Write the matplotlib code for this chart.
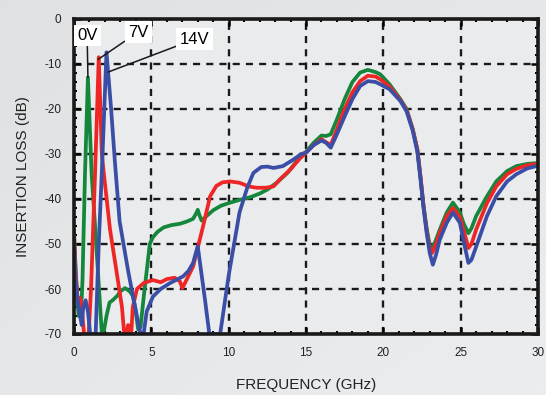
import numpy as np
import matplotlib
matplotlib.use("Agg")
import matplotlib.pyplot as plt
from matplotlib.ticker import MultipleLocator

plt.rcParams['font.family'] = ['Liberation Sans', 'DejaVu Sans']

# ---------------- data ----------------
green_f = [0.0, 0.1, 0.2, 0.3, 0.4, 0.5, 0.55, 0.71, 0.9, 1.14, 1.4, 1.8, 1.95, 2.1, 2.3, 2.5,
           2.8, 3.0, 3.3, 3.6, 3.8, 3.95, 4.15, 4.3, 4.5, 4.7, 4.9, 5.1, 5.4, 5.8, 6.3, 6.85,
           7.3, 7.7, 7.9, 8.0, 8.1, 8.25, 8.5, 9.0, 9.5, 10.1, 10.7, 11.4, 12.0, 12.5, 13.1,
           13.8, 14.4, 15.0, 15.5, 16.0, 16.3, 16.6, 17.0, 17.5, 18.0, 18.5, 19.0, 19.5, 19.8,
           20.4, 21.1, 21.5, 21.9, 22.2, 22.4, 22.6, 22.8, 23.0, 23.1, 23.3, 23.65, 24.1, 24.5,
           24.95, 25.2, 25.5, 25.7, 26.0, 26.7, 27.3, 28.0, 28.6, 29.3, 30.0]
green_db = [-47, -55, -62, -66, -64, -62, -58, -34.5, -13, -34.5, -48, -70, -69, -66, -63, -62.5,
            -61.5, -60.5, -59.8, -60.5, -61.5, -64, -69, -68.5, -62, -56, -50, -48.5, -47.3, -46.3, -45.8, -45.5,
            -45, -44.4, -43.2, -42.4, -43.5, -44.8, -44, -42.5, -41.5, -40.8, -40.2, -39.6, -38.8, -37.9, -36.4,
            -34.2, -31.6, -29.5, -27.5, -25.9, -26, -25.6, -22.3, -17.8, -14, -11.9, -11.3, -11.8, -12.3,
            -14.5, -17.8, -20, -24.5, -29, -35, -41.5, -46.5, -50.3, -51.2, -50, -46.8, -43, -40.8,
            -43, -45.5, -47.6, -46.5, -43.8, -39.4, -36.1, -33.8, -32.7, -32.2, -32]

red_f = [0.0, 0.1, 0.25, 0.4, 0.55, 0.65, 0.95, 1.1, 1.36, 1.6, 1.8, 1.9, 2.33, 2.7, 3.1, 3.25,
         3.4, 3.5, 3.6, 3.7, 3.8, 4.07, 4.5, 5.1, 5.6, 6.0, 6.5, 6.85, 7.0, 7.2, 7.7, 7.95,
         8.35, 8.8, 9.2, 9.6, 10.1, 10.7, 11.3, 11.8, 12.4, 12.9, 13.3, 14.0, 14.6, 15.0, 15.5,
         16.0, 16.3, 16.6, 17.0, 17.5, 18.0, 18.5, 19.0, 19.5, 19.8, 20.4, 21.1, 21.5, 21.9,
         22.2, 22.4, 22.6, 22.8, 23.0, 23.15, 23.35, 23.65, 24.1, 24.5, 24.95, 25.2, 25.5, 25.7,
         26.0, 26.7, 27.3, 28.0, 28.6, 29.3, 30.0]
red_db = [-48, -56, -63, -62, -66, -70, -70, -60, -34.5, -8.5, -30, -33.4, -46.8, -55, -64, -70,
          -70, -68, -70, -70, -64, -60, -58.7, -58, -58.5, -57.8, -57.5, -58.3, -59.8, -58.5, -55, -51.5,
          -46, -39.4, -37.1, -36.3, -36.1, -36.4, -37.2, -37.5, -37.5, -37.2, -35.7, -33.4, -31, -29.7, -28,
          -26.7, -27.4, -28, -24.5, -20, -16.3, -13.8, -12.6, -12.8, -13.4, -15, -18, -20.2, -24.5,
          -29, -35, -41.7, -47, -51, -52, -50.5, -47.5, -43.8, -42, -44, -47, -50.9, -50,
          -46.8, -40.9, -37.2, -34.5, -33.3, -32.5, -32.2]

blue_f = [0.0, 0.1, 0.25, 0.4, 0.5, 0.6, 0.75, 0.9, 1.05, 1.4, 1.6, 1.8, 2.1, 2.4, 2.65, 2.95,
          3.2, 3.5, 3.95, 4.3, 4.5, 4.7, 5.1, 5.6, 6.2, 6.6, 7.05, 7.4, 7.7, 8.0, 8.47, 8.75,
          9.45, 10.0, 10.3, 10.7, 11.2, 11.6, 12.1, 12.5, 12.9, 13.5, 14.2, 14.7, 15.0, 15.5,
          16.0, 16.3, 16.6, 17.0, 17.5, 18.0, 18.5, 19.0, 19.5, 19.8, 20.4, 21.1, 21.5, 21.9,
          22.2, 22.4, 22.6, 22.8, 23.0, 23.2, 23.4, 23.65, 24.1, 24.5, 24.95, 25.2, 25.5, 25.7,
          26.0, 26.7, 27.3, 28.0, 28.6, 29.3, 30.0]
blue_db = [-50, -58, -63, -66, -68, -64, -62.5, -65, -70, -70, -50, -34, -7.4, -20, -32, -45,
           -50, -56, -64, -70, -70, -65, -61.7, -60, -58.7, -58, -57.2, -56, -54.2, -50.5, -62.4, -70,
           -70, -57, -51, -43, -37.5, -34.2, -32.9, -32.8, -33.1, -32.7, -31.2, -30, -29.7, -28,
           -27, -27.5, -28.6, -25.6, -21.6, -17.8, -14.9, -13.8, -14, -14.5, -15.6, -18.2, -20.5, -24.8,
           -29.5, -35.5, -42, -47.5, -52, -54.6, -52.5, -49, -45.3, -43, -45.3, -49.5, -54.2, -53.5,
           -50.6, -43.8, -39.4, -36.1, -34.5, -33.2, -32.6]

series_labels = ["0V", "7V", "14V"]
x_ticks = [0, 5, 10, 15, 20, 25, 30]
y_ticks = [0, -10, -20, -30, -40, -50, -60, -70]

# ---------------- figure ----------------
W, H = 546, 395
fig = plt.figure(figsize=(W / 100, H / 100), dpi=100)

# gradient background
bg = fig.add_axes([0, 0, 1, 1], zorder=-10)
gx = np.linspace(0, 1, 200)
gy = np.linspace(0, 1, 200)
GX, GY = np.meshgrid(gx, gy)
grad = 0.5 * GX + 0.5 * GY
c0 = np.array([0.875, 0.882, 0.890])
c1 = np.array([0.925, 0.930, 0.937])
img = c0[None, None, :] * (1 - grad[..., None]) + c1[None, None, :] * grad[..., None]
bg.imshow(img, extent=[0, 1, 0, 1], aspect='auto', origin='upper')
bg.axis('off')

ax = fig.add_axes([74 / W, 1 - 334 / H, (538 - 74) / W, (334 - 19) / H])
ax.set_facecolor('#eaebed')

colors = ['#14873c', '#ee2626', '#3a4ea6']
lw = 2.7
ax.plot(green_f, green_db, color=colors[0], lw=lw, solid_joinstyle='round', zorder=3)
ax.plot(red_f, red_db, color=colors[1], lw=lw, solid_joinstyle='round', zorder=4)
ax.plot(blue_f, blue_db, color=colors[2], lw=lw, solid_joinstyle='round', zorder=5)

ax.set_xlim(0, 30)
ax.set_ylim(-70, 0)
ax.set_xticks(x_ticks)
ax.set_yticks(y_ticks)
ax.set_xticklabels([str(v) for v in x_ticks])
ax.set_yticklabels([str(v) for v in y_ticks])
ax.xaxis.set_minor_locator(MultipleLocator(1))
ax.yaxis.set_minor_locator(MultipleLocator(2))
ax.tick_params(which='both', direction='in', top=True, right=True, colors='black',
               labelcolor='#222222', labelsize=8.5)
ax.tick_params(which='major', length=5, width=1.8)
ax.tick_params(which='minor', length=2.5, width=1.5)
ax.tick_params(axis='y', pad=9)
ax.tick_params(axis='x', pad=9)

ax.grid(True, which='major', color='#1a1a1a', linestyle=(0, (3, 2.6)), linewidth=1.7, zorder=1)
ax.set_axisbelow(True)
for s in ax.spines.values():
    s.set_linewidth(2.6)
    s.set_color('#1a1a1a')
    s.set_zorder(6)

ax.set_xlabel('FREQUENCY (GHz)', fontsize=11, color='#222222', labelpad=14)
ax.set_ylabel('INSERTION LOSS (dB)', fontsize=11, color='#222222', labelpad=10)

box = dict(boxstyle='square,pad=0.2', facecolor='white', edgecolor='none')
arrow = dict(arrowstyle='-', color='#1a1a1a', lw=1.1, shrinkA=0, shrinkB=0)
ax.annotate(series_labels[0], xy=(0.9, -13), xytext=(0.85, -3.7), fontsize=12,
            ha='center', va='center', bbox=box, arrowprops=arrow, zorder=7)
ax.annotate(series_labels[1], xy=(1.55, -9.0), xytext=(4.15, -2.9), fontsize=12,
            ha='center', va='center', bbox=box, arrowprops=arrow, zorder=7)
ax.annotate(series_labels[2], xy=(2.2, -11.8), xytext=(7.8, -4.5), fontsize=12,
            ha='center', va='center', bbox=box, arrowprops=arrow, zorder=7)

fig.savefig('out.png', dpi=100)
